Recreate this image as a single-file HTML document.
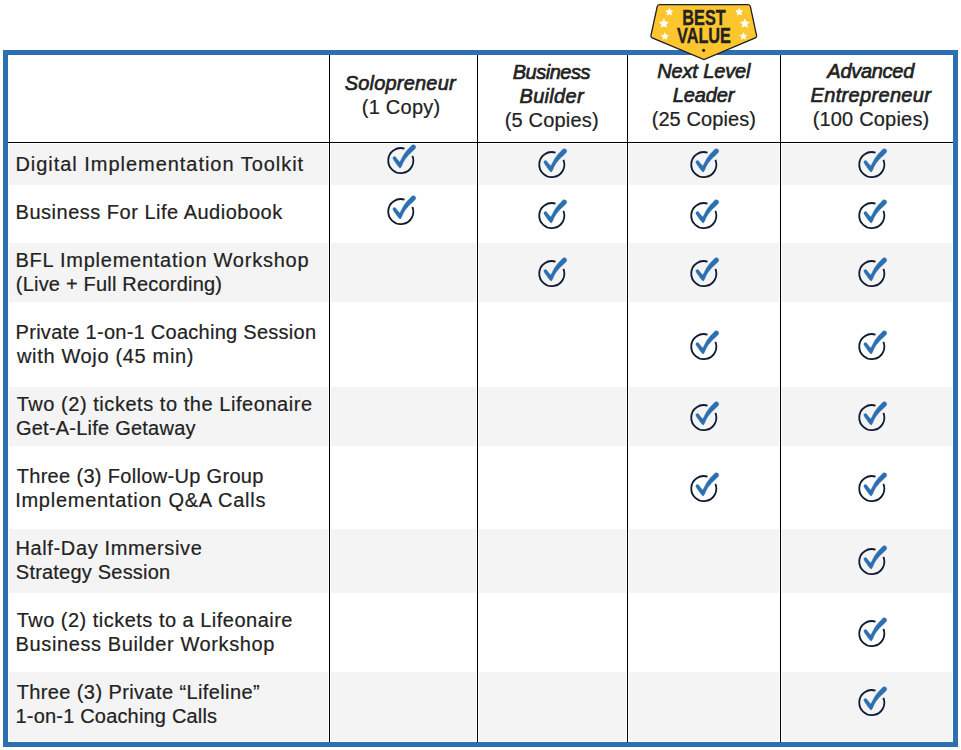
<!DOCTYPE html>
<html><head><meta charset="utf-8"><style>
html,body{margin:0;padding:0;background:#fff;width:961px;height:750px;overflow:hidden;position:relative}
body{font-family:"Liberation Sans",sans-serif;color:#222}
.t{position:absolute;white-space:nowrap;font-size:20px;line-height:20px;height:20px;-webkit-text-stroke:0.2px #222}
.bi{font-weight:normal;font-style:italic;-webkit-text-stroke:0.65px #222;will-change:auto}
.g{position:absolute;background:#f4f4f4}
.vl{position:absolute;top:55px;width:1px;height:687px;background:#000}
.ck{position:absolute;width:40px;height:40px}
</style></head><body>

<div style="position:absolute;left:3px;top:50px;width:955px;height:697px;box-sizing:border-box;border:5px solid #2c70b1"></div>
<div class="g" style="left:9px;top:144px;width:319px;height:41px"></div>
<div class="g" style="left:331px;top:144px;width:145px;height:41px"></div>
<div class="g" style="left:479px;top:144px;width:147px;height:41px"></div>
<div class="g" style="left:629px;top:144px;width:150px;height:41px"></div>
<div class="g" style="left:782px;top:144px;width:170px;height:41px"></div>
<div class="g" style="left:9px;top:243px;width:319px;height:59px"></div>
<div class="g" style="left:331px;top:243px;width:145px;height:59px"></div>
<div class="g" style="left:479px;top:243px;width:147px;height:59px"></div>
<div class="g" style="left:629px;top:243px;width:150px;height:59px"></div>
<div class="g" style="left:782px;top:243px;width:170px;height:59px"></div>
<div class="g" style="left:9px;top:387px;width:319px;height:59px"></div>
<div class="g" style="left:331px;top:387px;width:145px;height:59px"></div>
<div class="g" style="left:479px;top:387px;width:147px;height:59px"></div>
<div class="g" style="left:629px;top:387px;width:150px;height:59px"></div>
<div class="g" style="left:782px;top:387px;width:170px;height:59px"></div>
<div class="g" style="left:9px;top:529px;width:319px;height:64px"></div>
<div class="g" style="left:331px;top:529px;width:145px;height:64px"></div>
<div class="g" style="left:479px;top:529px;width:147px;height:64px"></div>
<div class="g" style="left:629px;top:529px;width:150px;height:64px"></div>
<div class="g" style="left:782px;top:529px;width:170px;height:64px"></div>
<div class="g" style="left:9px;top:672px;width:319px;height:69px"></div>
<div class="g" style="left:331px;top:672px;width:145px;height:69px"></div>
<div class="g" style="left:479px;top:672px;width:147px;height:69px"></div>
<div class="g" style="left:629px;top:672px;width:150px;height:69px"></div>
<div class="g" style="left:782px;top:672px;width:170px;height:69px"></div>
<div style="position:absolute;left:8px;top:142px;width:945px;height:1px;background:#000"></div>
<div class="vl" style="left:329px"></div>
<div class="vl" style="left:477px"></div>
<div class="vl" style="left:627px"></div>
<div class="vl" style="left:780px"></div>
<div class="t" style="left:15.41px;top:154.07px;letter-spacing:0.966px">Digital Implementation Toolkit</div>
<div class="t" style="left:15.61px;top:202.07px;letter-spacing:0.504px">Business For Life Audiobook</div>
<div class="t" style="left:15.41px;top:250.07px;letter-spacing:0.758px">BFL Implementation Workshop</div>
<div class="t" style="left:15.82px;top:274.07px;letter-spacing:0.201px">(Live + Full Recording)</div>
<div class="t" style="left:15.61px;top:322.07px;letter-spacing:0.269px">Private 1-on-1 Coaching Session</div>
<div class="t" style="left:16.98px;top:346.07px;letter-spacing:0.660px">with Wojo (45 min)</div>
<div class="t" style="left:16.63px;top:394.07px;letter-spacing:0.548px">Two (2) tickets to the Lifeonaire</div>
<div class="t" style="left:15.97px;top:418.07px;letter-spacing:0.229px">Get-A-Life Getaway</div>
<div class="t" style="left:16.65px;top:466.07px;letter-spacing:0.325px">Three (3) Follow-Up Group</div>
<div class="t" style="left:15.18px;top:490.07px;letter-spacing:0.733px">Implementation Q&amp;A Calls</div>
<div class="t" style="left:15.41px;top:538.07px;letter-spacing:0.637px">Half-Day Immersive</div>
<div class="t" style="left:15.83px;top:562.07px;letter-spacing:0.212px">Strategy Session</div>
<div class="t" style="left:16.65px;top:610.07px;letter-spacing:0.486px">Two (2) tickets to a Lifeonaire</div>
<div class="t" style="left:15.61px;top:634.07px;letter-spacing:0.606px">Business Builder Workshop</div>
<div class="t" style="left:16.63px;top:682.07px;letter-spacing:0.397px">Three (3) Private &#8220;Lifeline&#8221;</div>
<div class="t" style="left:15.54px;top:706.07px;letter-spacing:0.185px">1-on-1 Coaching Calls</div>
<div class="t bi" style="left:344.74px;top:72.57px;letter-spacing:0.191px">Solopreneur</div>
<div class="t" style="left:361.78px;top:96.57px;letter-spacing:0.253px">(1 Copy)</div>
<div class="t bi" style="left:512.63px;top:62.47px;letter-spacing:-0.456px">Business</div>
<div class="t bi" style="left:519.56px;top:86.47px;letter-spacing:0.305px">Builder</div>
<div class="t" style="left:504.78px;top:110.37px;letter-spacing:0.173px">(5 Copies)</div>
<div class="t bi" style="left:657.14px;top:61.17px;letter-spacing:-0.118px">Next Level</div>
<div class="t bi" style="left:672.80px;top:85.17px;letter-spacing:-0.141px">Leader</div>
<div class="t" style="left:651.64px;top:109.27px;letter-spacing:0.093px">(25 Copies)</div>
<div class="t bi" style="left:827.33px;top:61.17px;letter-spacing:-0.289px">Advanced</div>
<div class="t bi" style="left:810.51px;top:85.17px;letter-spacing:0.335px">Entrepreneur</div>
<div class="t" style="left:812.64px;top:109.27px;letter-spacing:0.191px">(100 Copies)</div>
<svg class="ck" style="left:380.10px;top:140.10px" viewBox="0 0 40 40"><g transform="translate(20.5 20.5)"><path d="M11.9 -4.7 A12.55 12.55 0 1 1 4.0 -11.9" fill="none" stroke="#0d1a31" stroke-width="1.8"/><path d="M-7.7 -2.2 A1.75 1.75 0 0 1 -5.3 -3.9 L-2.5 -0.45 L-0.7 1.4 L1.4 -2.4 Q3.0 -6.4 6.5 -10.3 L10.4 -14.2 A2.55 2.55 0 0 1 15.3 -12.9 Q14.8 -11.6 13.6 -10.75 L11.3 -8.55 L9.1 -6.55 Q7.8 -5.4 6.9 -4.05 L4.6 -1.15 L2.7 2.05 L1.1 5.65 L0.3 7.0 Q-0.5 8.0 -1.2 7.1 L-2.3 5.65 L-3.9 3.65 L-5.3 1.65 L-6.7 -0.35 Z" fill="#2c70b1" stroke="#2c70b1" stroke-width="0.3" stroke-linejoin="round"/></g></svg>
<svg class="ck" style="left:531.10px;top:143.80px" viewBox="0 0 40 40"><g transform="translate(20.5 20.5)"><path d="M11.9 -4.7 A12.55 12.55 0 1 1 4.0 -11.9" fill="none" stroke="#0d1a31" stroke-width="1.8"/><path d="M-7.7 -2.2 A1.75 1.75 0 0 1 -5.3 -3.9 L-2.5 -0.45 L-0.7 1.4 L1.4 -2.4 Q3.0 -6.4 6.5 -10.3 L10.4 -14.2 A2.55 2.55 0 0 1 15.3 -12.9 Q14.8 -11.6 13.6 -10.75 L11.3 -8.55 L9.1 -6.55 Q7.8 -5.4 6.9 -4.05 L4.6 -1.15 L2.7 2.05 L1.1 5.65 L0.3 7.0 Q-0.5 8.0 -1.2 7.1 L-2.3 5.65 L-3.9 3.65 L-5.3 1.65 L-6.7 -0.35 Z" fill="#2c70b1" stroke="#2c70b1" stroke-width="0.3" stroke-linejoin="round"/></g></svg>
<svg class="ck" style="left:683.20px;top:143.80px" viewBox="0 0 40 40"><g transform="translate(20.5 20.5)"><path d="M11.9 -4.7 A12.55 12.55 0 1 1 4.0 -11.9" fill="none" stroke="#0d1a31" stroke-width="1.8"/><path d="M-7.7 -2.2 A1.75 1.75 0 0 1 -5.3 -3.9 L-2.5 -0.45 L-0.7 1.4 L1.4 -2.4 Q3.0 -6.4 6.5 -10.3 L10.4 -14.2 A2.55 2.55 0 0 1 15.3 -12.9 Q14.8 -11.6 13.6 -10.75 L11.3 -8.55 L9.1 -6.55 Q7.8 -5.4 6.9 -4.05 L4.6 -1.15 L2.7 2.05 L1.1 5.65 L0.3 7.0 Q-0.5 8.0 -1.2 7.1 L-2.3 5.65 L-3.9 3.65 L-5.3 1.65 L-6.7 -0.35 Z" fill="#2c70b1" stroke="#2c70b1" stroke-width="0.3" stroke-linejoin="round"/></g></svg>
<svg class="ck" style="left:851.10px;top:143.80px" viewBox="0 0 40 40"><g transform="translate(20.5 20.5)"><path d="M11.9 -4.7 A12.55 12.55 0 1 1 4.0 -11.9" fill="none" stroke="#0d1a31" stroke-width="1.8"/><path d="M-7.7 -2.2 A1.75 1.75 0 0 1 -5.3 -3.9 L-2.5 -0.45 L-0.7 1.4 L1.4 -2.4 Q3.0 -6.4 6.5 -10.3 L10.4 -14.2 A2.55 2.55 0 0 1 15.3 -12.9 Q14.8 -11.6 13.6 -10.75 L11.3 -8.55 L9.1 -6.55 Q7.8 -5.4 6.9 -4.05 L4.6 -1.15 L2.7 2.05 L1.1 5.65 L0.3 7.0 Q-0.5 8.0 -1.2 7.1 L-2.3 5.65 L-3.9 3.65 L-5.3 1.65 L-6.7 -0.35 Z" fill="#2c70b1" stroke="#2c70b1" stroke-width="0.3" stroke-linejoin="round"/></g></svg>
<svg class="ck" style="left:380.10px;top:190.90px" viewBox="0 0 40 40"><g transform="translate(20.5 20.5)"><path d="M11.9 -4.7 A12.55 12.55 0 1 1 4.0 -11.9" fill="none" stroke="#0d1a31" stroke-width="1.8"/><path d="M-7.7 -2.2 A1.75 1.75 0 0 1 -5.3 -3.9 L-2.5 -0.45 L-0.7 1.4 L1.4 -2.4 Q3.0 -6.4 6.5 -10.3 L10.4 -14.2 A2.55 2.55 0 0 1 15.3 -12.9 Q14.8 -11.6 13.6 -10.75 L11.3 -8.55 L9.1 -6.55 Q7.8 -5.4 6.9 -4.05 L4.6 -1.15 L2.7 2.05 L1.1 5.65 L0.3 7.0 Q-0.5 8.0 -1.2 7.1 L-2.3 5.65 L-3.9 3.65 L-5.3 1.65 L-6.7 -0.35 Z" fill="#2c70b1" stroke="#2c70b1" stroke-width="0.3" stroke-linejoin="round"/></g></svg>
<svg class="ck" style="left:531.10px;top:195.00px" viewBox="0 0 40 40"><g transform="translate(20.5 20.5)"><path d="M11.9 -4.7 A12.55 12.55 0 1 1 4.0 -11.9" fill="none" stroke="#0d1a31" stroke-width="1.8"/><path d="M-7.7 -2.2 A1.75 1.75 0 0 1 -5.3 -3.9 L-2.5 -0.45 L-0.7 1.4 L1.4 -2.4 Q3.0 -6.4 6.5 -10.3 L10.4 -14.2 A2.55 2.55 0 0 1 15.3 -12.9 Q14.8 -11.6 13.6 -10.75 L11.3 -8.55 L9.1 -6.55 Q7.8 -5.4 6.9 -4.05 L4.6 -1.15 L2.7 2.05 L1.1 5.65 L0.3 7.0 Q-0.5 8.0 -1.2 7.1 L-2.3 5.65 L-3.9 3.65 L-5.3 1.65 L-6.7 -0.35 Z" fill="#2c70b1" stroke="#2c70b1" stroke-width="0.3" stroke-linejoin="round"/></g></svg>
<svg class="ck" style="left:683.20px;top:195.00px" viewBox="0 0 40 40"><g transform="translate(20.5 20.5)"><path d="M11.9 -4.7 A12.55 12.55 0 1 1 4.0 -11.9" fill="none" stroke="#0d1a31" stroke-width="1.8"/><path d="M-7.7 -2.2 A1.75 1.75 0 0 1 -5.3 -3.9 L-2.5 -0.45 L-0.7 1.4 L1.4 -2.4 Q3.0 -6.4 6.5 -10.3 L10.4 -14.2 A2.55 2.55 0 0 1 15.3 -12.9 Q14.8 -11.6 13.6 -10.75 L11.3 -8.55 L9.1 -6.55 Q7.8 -5.4 6.9 -4.05 L4.6 -1.15 L2.7 2.05 L1.1 5.65 L0.3 7.0 Q-0.5 8.0 -1.2 7.1 L-2.3 5.65 L-3.9 3.65 L-5.3 1.65 L-6.7 -0.35 Z" fill="#2c70b1" stroke="#2c70b1" stroke-width="0.3" stroke-linejoin="round"/></g></svg>
<svg class="ck" style="left:851.10px;top:195.00px" viewBox="0 0 40 40"><g transform="translate(20.5 20.5)"><path d="M11.9 -4.7 A12.55 12.55 0 1 1 4.0 -11.9" fill="none" stroke="#0d1a31" stroke-width="1.8"/><path d="M-7.7 -2.2 A1.75 1.75 0 0 1 -5.3 -3.9 L-2.5 -0.45 L-0.7 1.4 L1.4 -2.4 Q3.0 -6.4 6.5 -10.3 L10.4 -14.2 A2.55 2.55 0 0 1 15.3 -12.9 Q14.8 -11.6 13.6 -10.75 L11.3 -8.55 L9.1 -6.55 Q7.8 -5.4 6.9 -4.05 L4.6 -1.15 L2.7 2.05 L1.1 5.65 L0.3 7.0 Q-0.5 8.0 -1.2 7.1 L-2.3 5.65 L-3.9 3.65 L-5.3 1.65 L-6.7 -0.35 Z" fill="#2c70b1" stroke="#2c70b1" stroke-width="0.3" stroke-linejoin="round"/></g></svg>
<svg class="ck" style="left:531.10px;top:252.90px" viewBox="0 0 40 40"><g transform="translate(20.5 20.5)"><path d="M11.9 -4.7 A12.55 12.55 0 1 1 4.0 -11.9" fill="none" stroke="#0d1a31" stroke-width="1.8"/><path d="M-7.7 -2.2 A1.75 1.75 0 0 1 -5.3 -3.9 L-2.5 -0.45 L-0.7 1.4 L1.4 -2.4 Q3.0 -6.4 6.5 -10.3 L10.4 -14.2 A2.55 2.55 0 0 1 15.3 -12.9 Q14.8 -11.6 13.6 -10.75 L11.3 -8.55 L9.1 -6.55 Q7.8 -5.4 6.9 -4.05 L4.6 -1.15 L2.7 2.05 L1.1 5.65 L0.3 7.0 Q-0.5 8.0 -1.2 7.1 L-2.3 5.65 L-3.9 3.65 L-5.3 1.65 L-6.7 -0.35 Z" fill="#2c70b1" stroke="#2c70b1" stroke-width="0.3" stroke-linejoin="round"/></g></svg>
<svg class="ck" style="left:683.20px;top:252.90px" viewBox="0 0 40 40"><g transform="translate(20.5 20.5)"><path d="M11.9 -4.7 A12.55 12.55 0 1 1 4.0 -11.9" fill="none" stroke="#0d1a31" stroke-width="1.8"/><path d="M-7.7 -2.2 A1.75 1.75 0 0 1 -5.3 -3.9 L-2.5 -0.45 L-0.7 1.4 L1.4 -2.4 Q3.0 -6.4 6.5 -10.3 L10.4 -14.2 A2.55 2.55 0 0 1 15.3 -12.9 Q14.8 -11.6 13.6 -10.75 L11.3 -8.55 L9.1 -6.55 Q7.8 -5.4 6.9 -4.05 L4.6 -1.15 L2.7 2.05 L1.1 5.65 L0.3 7.0 Q-0.5 8.0 -1.2 7.1 L-2.3 5.65 L-3.9 3.65 L-5.3 1.65 L-6.7 -0.35 Z" fill="#2c70b1" stroke="#2c70b1" stroke-width="0.3" stroke-linejoin="round"/></g></svg>
<svg class="ck" style="left:851.10px;top:252.90px" viewBox="0 0 40 40"><g transform="translate(20.5 20.5)"><path d="M11.9 -4.7 A12.55 12.55 0 1 1 4.0 -11.9" fill="none" stroke="#0d1a31" stroke-width="1.8"/><path d="M-7.7 -2.2 A1.75 1.75 0 0 1 -5.3 -3.9 L-2.5 -0.45 L-0.7 1.4 L1.4 -2.4 Q3.0 -6.4 6.5 -10.3 L10.4 -14.2 A2.55 2.55 0 0 1 15.3 -12.9 Q14.8 -11.6 13.6 -10.75 L11.3 -8.55 L9.1 -6.55 Q7.8 -5.4 6.9 -4.05 L4.6 -1.15 L2.7 2.05 L1.1 5.65 L0.3 7.0 Q-0.5 8.0 -1.2 7.1 L-2.3 5.65 L-3.9 3.65 L-5.3 1.65 L-6.7 -0.35 Z" fill="#2c70b1" stroke="#2c70b1" stroke-width="0.3" stroke-linejoin="round"/></g></svg>
<svg class="ck" style="left:683.20px;top:325.90px" viewBox="0 0 40 40"><g transform="translate(20.5 20.5)"><path d="M11.9 -4.7 A12.55 12.55 0 1 1 4.0 -11.9" fill="none" stroke="#0d1a31" stroke-width="1.8"/><path d="M-7.7 -2.2 A1.75 1.75 0 0 1 -5.3 -3.9 L-2.5 -0.45 L-0.7 1.4 L1.4 -2.4 Q3.0 -6.4 6.5 -10.3 L10.4 -14.2 A2.55 2.55 0 0 1 15.3 -12.9 Q14.8 -11.6 13.6 -10.75 L11.3 -8.55 L9.1 -6.55 Q7.8 -5.4 6.9 -4.05 L4.6 -1.15 L2.7 2.05 L1.1 5.65 L0.3 7.0 Q-0.5 8.0 -1.2 7.1 L-2.3 5.65 L-3.9 3.65 L-5.3 1.65 L-6.7 -0.35 Z" fill="#2c70b1" stroke="#2c70b1" stroke-width="0.3" stroke-linejoin="round"/></g></svg>
<svg class="ck" style="left:851.10px;top:325.90px" viewBox="0 0 40 40"><g transform="translate(20.5 20.5)"><path d="M11.9 -4.7 A12.55 12.55 0 1 1 4.0 -11.9" fill="none" stroke="#0d1a31" stroke-width="1.8"/><path d="M-7.7 -2.2 A1.75 1.75 0 0 1 -5.3 -3.9 L-2.5 -0.45 L-0.7 1.4 L1.4 -2.4 Q3.0 -6.4 6.5 -10.3 L10.4 -14.2 A2.55 2.55 0 0 1 15.3 -12.9 Q14.8 -11.6 13.6 -10.75 L11.3 -8.55 L9.1 -6.55 Q7.8 -5.4 6.9 -4.05 L4.6 -1.15 L2.7 2.05 L1.1 5.65 L0.3 7.0 Q-0.5 8.0 -1.2 7.1 L-2.3 5.65 L-3.9 3.65 L-5.3 1.65 L-6.7 -0.35 Z" fill="#2c70b1" stroke="#2c70b1" stroke-width="0.3" stroke-linejoin="round"/></g></svg>
<svg class="ck" style="left:683.20px;top:396.90px" viewBox="0 0 40 40"><g transform="translate(20.5 20.5)"><path d="M11.9 -4.7 A12.55 12.55 0 1 1 4.0 -11.9" fill="none" stroke="#0d1a31" stroke-width="1.8"/><path d="M-7.7 -2.2 A1.75 1.75 0 0 1 -5.3 -3.9 L-2.5 -0.45 L-0.7 1.4 L1.4 -2.4 Q3.0 -6.4 6.5 -10.3 L10.4 -14.2 A2.55 2.55 0 0 1 15.3 -12.9 Q14.8 -11.6 13.6 -10.75 L11.3 -8.55 L9.1 -6.55 Q7.8 -5.4 6.9 -4.05 L4.6 -1.15 L2.7 2.05 L1.1 5.65 L0.3 7.0 Q-0.5 8.0 -1.2 7.1 L-2.3 5.65 L-3.9 3.65 L-5.3 1.65 L-6.7 -0.35 Z" fill="#2c70b1" stroke="#2c70b1" stroke-width="0.3" stroke-linejoin="round"/></g></svg>
<svg class="ck" style="left:851.10px;top:396.90px" viewBox="0 0 40 40"><g transform="translate(20.5 20.5)"><path d="M11.9 -4.7 A12.55 12.55 0 1 1 4.0 -11.9" fill="none" stroke="#0d1a31" stroke-width="1.8"/><path d="M-7.7 -2.2 A1.75 1.75 0 0 1 -5.3 -3.9 L-2.5 -0.45 L-0.7 1.4 L1.4 -2.4 Q3.0 -6.4 6.5 -10.3 L10.4 -14.2 A2.55 2.55 0 0 1 15.3 -12.9 Q14.8 -11.6 13.6 -10.75 L11.3 -8.55 L9.1 -6.55 Q7.8 -5.4 6.9 -4.05 L4.6 -1.15 L2.7 2.05 L1.1 5.65 L0.3 7.0 Q-0.5 8.0 -1.2 7.1 L-2.3 5.65 L-3.9 3.65 L-5.3 1.65 L-6.7 -0.35 Z" fill="#2c70b1" stroke="#2c70b1" stroke-width="0.3" stroke-linejoin="round"/></g></svg>
<svg class="ck" style="left:683.20px;top:467.90px" viewBox="0 0 40 40"><g transform="translate(20.5 20.5)"><path d="M11.9 -4.7 A12.55 12.55 0 1 1 4.0 -11.9" fill="none" stroke="#0d1a31" stroke-width="1.8"/><path d="M-7.7 -2.2 A1.75 1.75 0 0 1 -5.3 -3.9 L-2.5 -0.45 L-0.7 1.4 L1.4 -2.4 Q3.0 -6.4 6.5 -10.3 L10.4 -14.2 A2.55 2.55 0 0 1 15.3 -12.9 Q14.8 -11.6 13.6 -10.75 L11.3 -8.55 L9.1 -6.55 Q7.8 -5.4 6.9 -4.05 L4.6 -1.15 L2.7 2.05 L1.1 5.65 L0.3 7.0 Q-0.5 8.0 -1.2 7.1 L-2.3 5.65 L-3.9 3.65 L-5.3 1.65 L-6.7 -0.35 Z" fill="#2c70b1" stroke="#2c70b1" stroke-width="0.3" stroke-linejoin="round"/></g></svg>
<svg class="ck" style="left:851.10px;top:467.90px" viewBox="0 0 40 40"><g transform="translate(20.5 20.5)"><path d="M11.9 -4.7 A12.55 12.55 0 1 1 4.0 -11.9" fill="none" stroke="#0d1a31" stroke-width="1.8"/><path d="M-7.7 -2.2 A1.75 1.75 0 0 1 -5.3 -3.9 L-2.5 -0.45 L-0.7 1.4 L1.4 -2.4 Q3.0 -6.4 6.5 -10.3 L10.4 -14.2 A2.55 2.55 0 0 1 15.3 -12.9 Q14.8 -11.6 13.6 -10.75 L11.3 -8.55 L9.1 -6.55 Q7.8 -5.4 6.9 -4.05 L4.6 -1.15 L2.7 2.05 L1.1 5.65 L0.3 7.0 Q-0.5 8.0 -1.2 7.1 L-2.3 5.65 L-3.9 3.65 L-5.3 1.65 L-6.7 -0.35 Z" fill="#2c70b1" stroke="#2c70b1" stroke-width="0.3" stroke-linejoin="round"/></g></svg>
<svg class="ck" style="left:851.10px;top:540.90px" viewBox="0 0 40 40"><g transform="translate(20.5 20.5)"><path d="M11.9 -4.7 A12.55 12.55 0 1 1 4.0 -11.9" fill="none" stroke="#0d1a31" stroke-width="1.8"/><path d="M-7.7 -2.2 A1.75 1.75 0 0 1 -5.3 -3.9 L-2.5 -0.45 L-0.7 1.4 L1.4 -2.4 Q3.0 -6.4 6.5 -10.3 L10.4 -14.2 A2.55 2.55 0 0 1 15.3 -12.9 Q14.8 -11.6 13.6 -10.75 L11.3 -8.55 L9.1 -6.55 Q7.8 -5.4 6.9 -4.05 L4.6 -1.15 L2.7 2.05 L1.1 5.65 L0.3 7.0 Q-0.5 8.0 -1.2 7.1 L-2.3 5.65 L-3.9 3.65 L-5.3 1.65 L-6.7 -0.35 Z" fill="#2c70b1" stroke="#2c70b1" stroke-width="0.3" stroke-linejoin="round"/></g></svg>
<svg class="ck" style="left:851.10px;top:612.90px" viewBox="0 0 40 40"><g transform="translate(20.5 20.5)"><path d="M11.9 -4.7 A12.55 12.55 0 1 1 4.0 -11.9" fill="none" stroke="#0d1a31" stroke-width="1.8"/><path d="M-7.7 -2.2 A1.75 1.75 0 0 1 -5.3 -3.9 L-2.5 -0.45 L-0.7 1.4 L1.4 -2.4 Q3.0 -6.4 6.5 -10.3 L10.4 -14.2 A2.55 2.55 0 0 1 15.3 -12.9 Q14.8 -11.6 13.6 -10.75 L11.3 -8.55 L9.1 -6.55 Q7.8 -5.4 6.9 -4.05 L4.6 -1.15 L2.7 2.05 L1.1 5.65 L0.3 7.0 Q-0.5 8.0 -1.2 7.1 L-2.3 5.65 L-3.9 3.65 L-5.3 1.65 L-6.7 -0.35 Z" fill="#2c70b1" stroke="#2c70b1" stroke-width="0.3" stroke-linejoin="round"/></g></svg>
<svg class="ck" style="left:851.10px;top:681.80px" viewBox="0 0 40 40"><g transform="translate(20.5 20.5)"><path d="M11.9 -4.7 A12.55 12.55 0 1 1 4.0 -11.9" fill="none" stroke="#0d1a31" stroke-width="1.8"/><path d="M-7.7 -2.2 A1.75 1.75 0 0 1 -5.3 -3.9 L-2.5 -0.45 L-0.7 1.4 L1.4 -2.4 Q3.0 -6.4 6.5 -10.3 L10.4 -14.2 A2.55 2.55 0 0 1 15.3 -12.9 Q14.8 -11.6 13.6 -10.75 L11.3 -8.55 L9.1 -6.55 Q7.8 -5.4 6.9 -4.05 L4.6 -1.15 L2.7 2.05 L1.1 5.65 L0.3 7.0 Q-0.5 8.0 -1.2 7.1 L-2.3 5.65 L-3.9 3.65 L-5.3 1.65 L-6.7 -0.35 Z" fill="#2c70b1" stroke="#2c70b1" stroke-width="0.3" stroke-linejoin="round"/></g></svg>
<svg style="position:absolute;left:640px;top:0px" width="130" height="70" viewBox="640 0 130 70"><path d="M659.5 4.6 L748 4.6 Q750 4.6 750.4 6.6 L756.6 35.6 Q756.9 37.2 755.3 37.9 L704 59.6 L652.2 37.9 Q650.7 37.2 650.9 35.6 L657.2 6.6 Q657.6 4.6 659.5 4.6 Z" fill="#fdc62f" stroke="#1e1e1e" stroke-width="1.3"/><circle cx="703.6" cy="50.3" r="1.6" fill="#222"/><g fill="#fff"><polygon points="669.30,7.70 670.56,10.26 673.39,10.67 671.34,12.66 671.83,15.48 669.30,14.15 666.77,15.48 667.26,12.66 665.21,10.67 668.04,10.26"/><polygon points="663.90,18.40 665.43,21.50 668.85,21.99 666.37,24.40 666.96,27.81 663.90,26.20 660.84,27.81 661.43,24.40 658.95,21.99 662.37,21.50"/><polygon points="664.90,32.20 666.13,34.70 668.89,35.10 666.90,37.05 667.37,39.80 664.90,38.50 662.43,39.80 662.90,37.05 660.91,35.10 663.67,34.70"/><polygon points="739.20,7.70 740.46,10.26 743.29,10.67 741.24,12.66 741.73,15.48 739.20,14.15 736.67,15.48 737.16,12.66 735.11,10.67 737.94,10.26"/><polygon points="744.80,18.40 746.33,21.50 749.75,21.99 747.27,24.40 747.86,27.81 744.80,26.20 741.74,27.81 742.33,24.40 739.85,21.99 743.27,21.50"/><polygon points="743.50,32.20 744.73,34.70 747.49,35.10 745.50,37.05 745.97,39.80 743.50,38.50 741.03,39.80 741.50,37.05 739.51,35.10 742.27,34.70"/></g></svg>
<div style="position:absolute;left:664px;top:9px;width:80px;text-align:center;font-weight:bold;font-size:22px;line-height:18px;color:#222;-webkit-text-stroke:0.35px #222;transform:scaleX(0.74);transform-origin:40px 0">BEST<br>VALUE</div>
</body></html>
